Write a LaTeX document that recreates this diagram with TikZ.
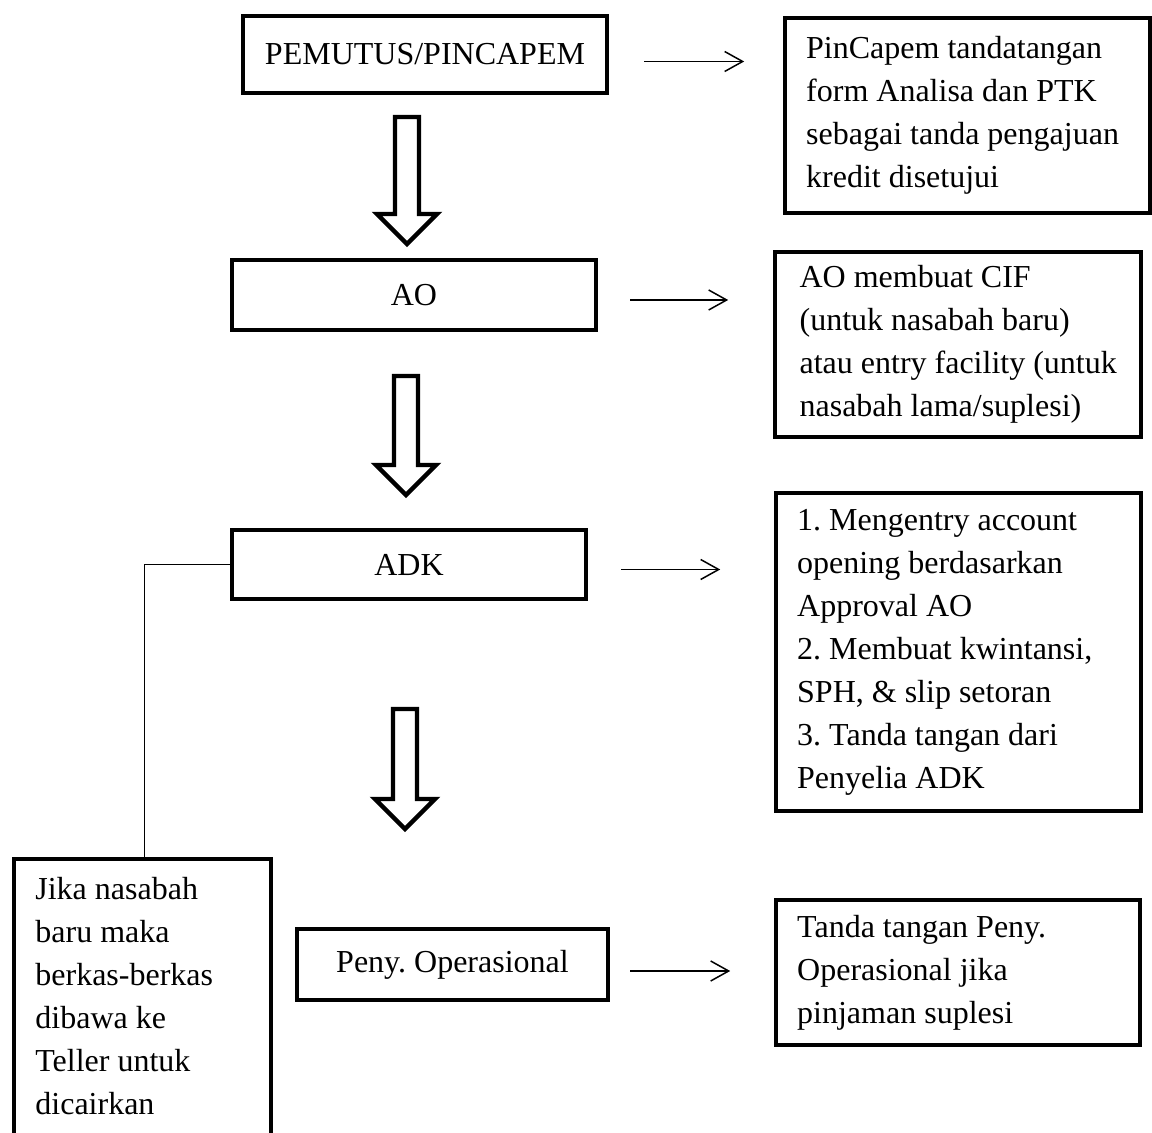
\documentclass[tikz,border=0pt]{standalone}
\usepackage{fontspec}
\setmainfont{Liberation Serif}
\frenchspacing
\usetikzlibrary{arrows.meta,calc}

\begin{document}
\begin{tikzpicture}[x=0.5pt,y=-0.5pt,
  box/.style={draw,line width=2.2pt,font=\fontsize{16}{21.5}\selectfont,inner sep=0pt},
  desc/.style={box,anchor=north west,align=flush left,inner xsep=10.5pt,text width=161.5pt},
  link/.style={line width=0.75pt,-{Straight Barb[length=9pt,width=10pt]}},
  hollow/.style={draw,line width=2.2pt,fill=white}]
\useasboundingbox (0,0) rectangle (1152,1133);
\clip (0,0) rectangle (1152,1133);
% main flow
\node[box,minimum width=182pt,minimum height=38.5pt] (pem) at (425,54.5) {PEMUTUS/PINCAPEM};
\node[box,minimum width=182pt,minimum height=35pt] (ao) at (414,295) {AO};
\node[box,minimum width=177pt,minimum height=34.5pt] (adk) at (409,564.5) {ADK};
\node[box,minimum width=155.5pt,minimum height=35.5pt] (peny) at (452.5,964.5) {Peny. Operasional};
% block arrows
\foreach \x/\ya/\yb in {407/117/214, 406/376/465, 405/709/799}
  \draw[hollow] (\x-12,\ya) -- (\x+12,\ya) -- (\x+12,\yb) -- (\x+30,\yb) -- (\x,\yb+30) -- (\x-30,\yb) -- (\x-12,\yb) -- cycle;
% descriptions
\node[desc,minimum height=97.5pt] (pinc) at (783,16) {PinCapem tandatangan\\form Analisa dan PTK\\sebagai tanda pengajuan\\kredit disetujui};
\node[box,anchor=north west,align=left,minimum width=183pt,minimum height=92.5pt] (aod) at (773,250) {AO membuat CIF\\(untuk nasabah baru)\\atau entry facility (untuk\\nasabah lama/suplesi)};
\node[desc,minimum height=159pt] (adkd) at (774,491) {1. Mengentry account\\opening berdasarkan\\Approval AO\\2. Membuat kwintansi,\\SPH, \& slip setoran\\3. Tanda tangan dari\\Penyelia ADK};
\node[desc,minimum height=72.5pt,text width=161pt] (penyd) at (774,898) {Tanda tangan Peny.\\Operasional jika\\pinjaman suplesi};
% teller box, open at the bottom
\node[anchor=north west,align=flush left,inner xsep=10.5pt,inner ysep=9pt,text width=107pt,font=\fontsize{16}{21.5}\selectfont] (teller) at (14,859) {Jika nasabah\\baru maka\\berkas-berkas\\dibawa ke\\Teller untuk\\dicairkan};
\draw[line width=2.2pt] ([yshift=-30pt]teller.south west) -- (teller.north west) -- (teller.north east) -- ([yshift=-30pt]teller.south east);
% arrows
\draw[link] ($(pem.east)+(35,7)$) -- ++(100,0);
\draw[link] ($(ao.east)+(32,5)$) -- ++(98,0);
\draw[link] ($(adk.east)+(33,5)$) -- ++(99,0);
\draw[link] ($(peny.east)+(20,6.5)$) -- ++(100,0);
\draw[line width=0.7pt] (adk.west) -| ([xshift=1pt]teller.north);
\end{tikzpicture}
\end{document}
